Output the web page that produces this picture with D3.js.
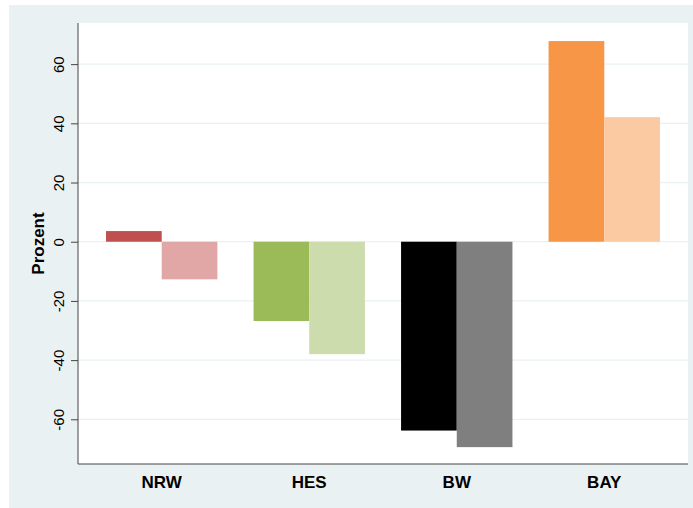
<!DOCTYPE html>
<html>
<head>
<meta charset="utf-8">
<script src="https://cdn.jsdelivr.net/npm/d3@7"></script>
<style>
  body { margin: 0; background: #fff; }
  text { font-family: Arial, "Liberation Sans", sans-serif; }
</style>
</head>
<body>
<svg class="chart" width="693" height="508"></svg>
<script>
const regions = ['NRW', 'HES', 'BW', 'BAY'];
const firstValues = [3.6, -26.8, -63.8, 67.8];
const secondValues = [-12.7, -38.0, -69.4, 42.1];
const firstColors = ['#c0504d', '#9bbb59', '#000000', '#f79646'];
const secondColors = ['#e0a7a6', '#cddcac', '#7f7f7f', '#fbcaa2'];
const yTicks = [-60, -40, -20, 0, 20, 40, 60];

const svg = d3.select('svg.chart');
const width = +svg.attr('width');
const height = +svg.attr('height');

// outer stata-ish background
svg.append('rect')
    .attr('x', 9).attr('y', 5)
    .attr('width', width - 9).attr('height', height - 5)
    .attr('fill', '#eaf1f3');

const plot = { left: 78, right: 688, top: 23, bottom: 464 };

svg.append('rect')
    .attr('x', plot.left).attr('y', plot.top)
    .attr('width', plot.right - plot.left)
    .attr('height', plot.bottom - plot.top)
    .attr('fill', '#fff');

const yScale = d3.scaleLinear()
    .domain([-75.1, 73.9])
    .range([plot.bottom, plot.top]);

const xScale = d3.scaleBand()
    .domain(regions)
    .range([plot.left, plot.right])
    .paddingInner(0.245)
    .paddingOuter(0.19);

const sub = d3.scaleBand()
    .domain([0, 1])
    .range([0, xScale.bandwidth()]);

// grid
svg.append('g')
    .selectAll('line').data(yTicks)
    .enter().append('line')
        .attr('x1', plot.left).attr('x2', plot.right)
        .attr('y1', d => yScale(d)).attr('y2', d => yScale(d))
        .attr('stroke', '#eaf1f3')
        .attr('stroke-width', 1.2);

const data = regions.map((r, i) => ({
    region: r,
    vals: [
        { k: 0, v: firstValues[i], c: firstColors[i] },
        { k: 1, v: secondValues[i], c: secondColors[i] }
    ]
}));

const groups = svg.append('g').selectAll('g').data(data)
    .enter().append('g')
        .attr('transform', d => `translate(${xScale(d.region)},0)`);

groups.selectAll('rect').data(d => d.vals)
    .enter().append('rect')
        .attr('x', d => sub(d.k))
        .attr('width', sub.bandwidth())
        .attr('y', d => yScale(Math.max(0, d.v)))
        .attr('height', d => Math.abs(yScale(d.v) - yScale(0)))
        .attr('fill', d => d.c);

// y axis
const yAxis = svg.append('g')
    .attr('transform', `translate(${plot.left},0)`)
    .call(d3.axisLeft(yScale).tickValues(yTicks).tickFormat(d => String(d)).tickSize(7).tickPadding(4));
yAxis.select('.domain')
    .attr('d', `M0,${plot.top}V${plot.bottom}`)
    .attr('stroke', '#444');
yAxis.selectAll('.tick line').attr('stroke', '#444');
yAxis.selectAll('.tick text')
    .attr('transform', 'rotate(-90)')
    .attr('x', 0).attr('y', -14)
    .attr('dy', 0)
    .attr('text-anchor', 'middle')
    .attr('font-size', 15)
    .attr('font-family', 'Arial, "Liberation Sans", sans-serif')
    .attr('fill', '#000');

// x axis
const xAxis = svg.append('g')
    .attr('transform', `translate(0,${plot.bottom})`)
    .call(d3.axisBottom(xScale).tickSize(0).tickPadding(0));
xAxis.select('.domain')
    .attr('d', `M${plot.left},0H${plot.right}`)
    .attr('stroke', '#444');
xAxis.selectAll('.tick text')
    .attr('y', 24).attr('dy', 0)
    .attr('font-size', 17)
    .attr('font-weight', 'bold')
    .attr('font-family', 'Arial, "Liberation Sans", sans-serif')
    .attr('fill', '#000');

svg.append('text')
    .attr('transform', `translate(44,${(plot.top + plot.bottom) / 2}) rotate(-90)`)
    .attr('text-anchor', 'middle')
    .attr('font-size', 17)
    .attr('font-weight', 'bold')
    .text('Prozent');
</script>
</body>
</html>
